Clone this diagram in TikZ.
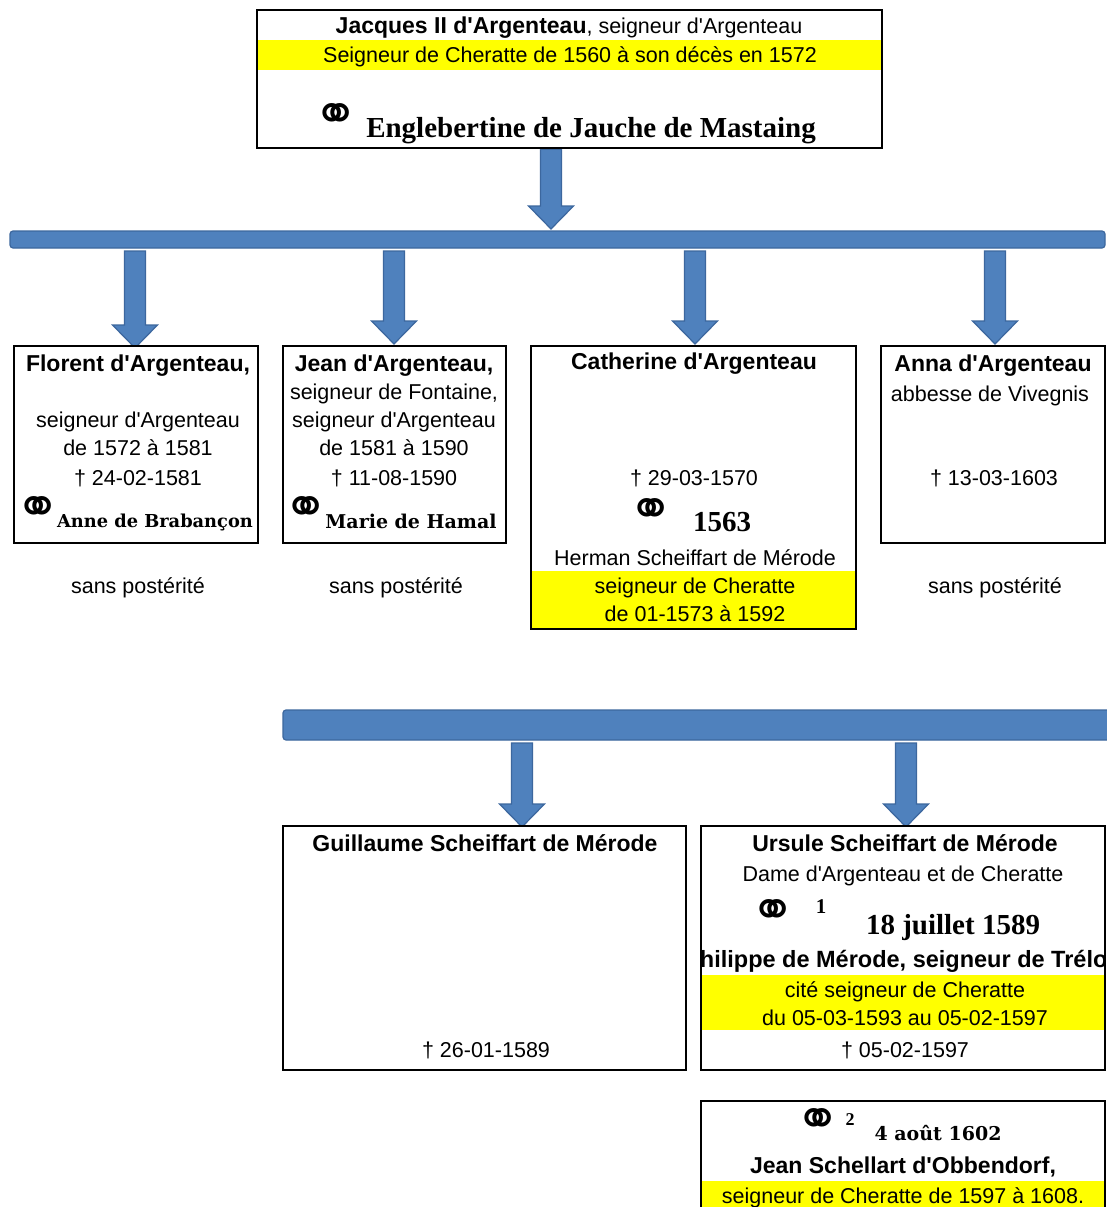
\documentclass[tikz,border=0pt]{standalone}
\usepackage{fontspec}
\newfontfamily\arial{Liberation Sans}
\newfontfamily\serifb{Liberation Serif}
\newfontfamily\dvserif{DejaVu Serif}
\newfontfamily\dvsans{DejaVu Sans}
\usetikzlibrary{calc}
\definecolor{arrowblue}{HTML}{4F81BD}
\definecolor{arrowedge}{HTML}{3C679E}
\definecolor{hl}{HTML}{FFFF00}
\tikzset{
  box/.style={draw=black, line width=2.6pt, fill=white, inner sep=0pt, outer sep=0pt, anchor=north west},
  band/.style={fill=hl, draw=none},
  reg/.style={inner sep=0pt, anchor=base, font=\fontsize{21.5}{26}\selectfont\arial},
  bld/.style={inner sep=0pt, anchor=base, font=\fontsize{23}{26}\selectfont\arial\bfseries},
  big/.style={inner sep=0pt, anchor=base, font=\fontsize{29}{32}\selectfont\serifb\bfseries},
  wide/.style={inner sep=0pt, anchor=base, font=\fontsize{17.8}{20}\selectfont\dvserif\bfseries},
  sup/.style={inner sep=0pt, anchor=base, font=\fontsize{21}{21}\selectfont\serifb\bfseries},
  rings/.style={inner sep=0pt, anchor=center, font=\fontsize{54}{54}\selectfont\dvsans},
  bar/.style={fill=arrowblue, draw=arrowedge, line width=1.2pt, rounded corners=3pt, inner sep=0pt, outer sep=0pt, anchor=north west},
  blockarr/.style={fill=arrowblue, draw=arrowedge, line width=1.2pt, line join=miter},
}
\newcommand\blockarrow[2]{%
  \filldraw[blockarr] let \p1=#1, \p2=#2 in
    (\x2-10.5pt,\y1) -- (\x2+10.5pt,\y1) -- (\x2+10.5pt,\y2+23pt) -- (\x2+22.5pt,\y2+23pt)
    -- (\x2,\y2) -- (\x2-22.5pt,\y2+23pt) -- (\x2-10.5pt,\y2+23pt) -- cycle;}
\begin{document}
\begin{tikzpicture}[x=1pt,y=-1pt]
\useasboundingbox (0,0) rectangle (1107,1207);
\clip (0,0) rectangle (1107,1207);
\fill[white] (0,0) rectangle (1107,1207);

% arrow tips
\coordinate (tTop) at (551,229);
\coordinate (tF) at (135,348);
\coordinate (tJ) at (394,344);
\coordinate (tC) at (695,344);
\coordinate (tA) at (995,344);
\coordinate (tG) at (522,827);
\coordinate (tU) at (906,827);

% bars (positions only, drawn after arrows)
\path (10,231) node[bar, minimum width=1095pt, minimum height=17pt, draw=none, fill=none] (bar1) {};
\path (283,710) node[bar, minimum width=830pt, minimum height=30pt, draw=none, fill=none] (bar2) {};
\path (257,10) node[box, minimum width=625pt, minimum height=138pt, draw=none, fill=none] (top) {};

% arrows
\blockarrow{($(top.south)+(0,1.3)$)}{(tTop)}
\blockarrow{($(bar1.south)+(0,3)$)}{(tF)}
\blockarrow{($(bar1.south)+(0,3)$)}{(tJ)}
\blockarrow{($(bar1.south)+(0,3)$)}{(tC)}
\blockarrow{($(bar1.south)+(0,3)$)}{(tA)}
\blockarrow{($(bar2.south)+(0,3)$)}{(tG)}
\blockarrow{($(bar2.south)+(0,3)$)}{(tU)}

% bars
\path (10,231) node[bar, minimum width=1095pt, minimum height=17pt] {};
\path (283,710) node[bar, minimum width=830pt, minimum height=30pt] {};

% boxes
\node[box, minimum width=625pt, minimum height=138pt] (topb) at (257,10) {};
\fill[band] (258.3,40) rectangle (880.7,70);
\node[box, minimum width=244pt, minimum height=197pt] (florent) at (14,346) {};
\node[box, minimum width=223pt, minimum height=197pt] (jean) at (283,346) {};
\node[box, minimum width=325pt, minimum height=283pt] (cath) at (531,346) {};
\fill[band] (532.3,571) rectangle (854.7,627.7);
\node[box, minimum width=224pt, minimum height=197pt] (anna) at (881,346) {};
\node[box, minimum width=403pt, minimum height=244pt] (guil) at (283,826) {};
\node[box, minimum width=404pt, minimum height=244pt] (urs) at (701,826) {};
\fill[band] (702.3,975) rectangle (1103.7,1030);
\node[box, minimum width=404pt, minimum height=120pt] (jean2) at (701,1101) {};
\fill[band] (702.3,1181) rectangle (1103.7,1215);

% top texts
\node[reg] (t1) at (569,34) {\textbf{\fontsize{23}{26}\selectfont Jacques II d'Argenteau}, seigneur d'Argenteau};
\node[reg] (t2) at (570,63) {Seigneur de Cheratte de 1560 à son décès en 1572};
\node[rings] (r0) at (336,118) {⚭};
\node[big] (t3) at (591,137) {Englebertine de Jauche de Mastaing};

% Florent
\node[bld] (f1) at (138,371) {Florent d'Argenteau,};
\node[reg] (f2) at (138,427) {seigneur d'Argenteau};
\node[reg] (f3) at (138,455) {de 1572 à 1581};
\node[reg] (f4) at (138,485) {† 24-02-1581};
\node[rings] (r1) at (38,511) {⚭};
\node[wide] (f5) at (155,527) {Anne de Brabançon};
\node[reg] (f6) at (138,593) {sans postérité};

% Jean
\node[bld] (j1) at (394,371) {Jean d'Argenteau,};
\node[reg] (j2) at (394,399) {seigneur de Fontaine,};
\node[reg] (j3) at (394,427) {seigneur d'Argenteau};
\node[reg] (j4) at (394,455) {de 1581 à 1590};
\node[reg] (j5) at (394,485) {† 11-08-1590};
\node[rings] (r2) at (306,511) {⚭};
\node[wide, font=\fontsize{19}{20}\selectfont\dvserif\bfseries] (j6) at (411,528) {Marie de Hamal};
\node[reg] (j7) at (396,593) {sans postérité};

% Catherine
\node[bld] (c1) at (694,369) {Catherine d'Argenteau};
\node[reg] (c2) at (694,485) {† 29-03-1570};
\node[rings] (r3) at (651,513) {⚭};
\node[big] (c3) at (722,531) {1563};
\node[reg] (c4) at (695,565) {Herman Scheiffart de Mérode};
\node[reg] (c5) at (695,593) {seigneur de Cheratte};
\node[reg] (c6) at (695,621) {de 01-1573 à 1592};

% Anna
\node[bld] (a1) at (993,371) {Anna d'Argenteau};
\node[reg] (a2) at (990,401) {abbesse de Vivegnis};
\node[reg] (a3) at (994,485) {† 13-03-1603};
\node[reg] (a4) at (995,593) {sans postérité};

% Guillaume
\node[bld] (g1) at (485,851) {Guillaume Scheiffart de Mérode};
\node[reg] (g2) at (486,1057) {† 26-01-1589};

% Ursule
\node[bld] (u1) at (905,851) {Ursule Scheiffart de Mérode};
\node[reg] (u2) at (903,881) {Dame d'Argenteau et de Cheratte};
\node[rings] (r4) at (773,914) {⚭};
\node[sup] (u3) at (821,913) {1};
\node[big] (u4) at (953,934) {18 juillet 1589};
\begin{scope}
\clip (702.3,826) rectangle (1103.7,1070);
\node[bld, font=\fontsize{23.5}{26}\selectfont\arial\bfseries] (u5) at (903,967) {Philippe de Mérode, seigneur de Trélon};
\end{scope}
\node[reg] (u6) at (905,997) {cité seigneur de Cheratte};
\node[reg] (u7) at (905,1025) {du 05-03-1593 au 05-02-1597};
\node[reg] (u8) at (905,1057) {† 05-02-1597};

% Jean Schellart
\node[rings] (r5) at (818,1123) {⚭};
\node[sup, font=\fontsize{18}{18}\selectfont\serifb\bfseries] (s1) at (850,1125) {2};
\node[wide, font=\fontsize{19}{20}\selectfont\dvserif\bfseries] (s2) at (938,1140) {4 août 1602};
\node[bld] (s3) at (903,1173) {Jean Schellart d'Obbendorf,};
\node[reg] (s4) at (903,1203) {seigneur de Cheratte de 1597 à 1608.};
\end{tikzpicture}
\end{document}
